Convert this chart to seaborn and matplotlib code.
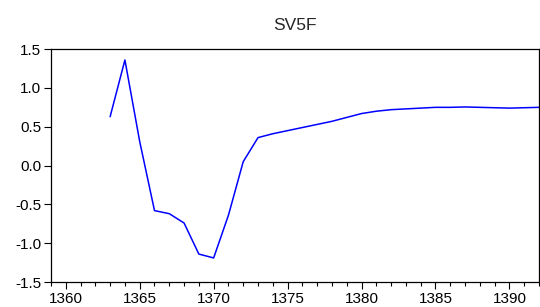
import seaborn as sns
import matplotlib.pyplot as plt
import pandas as pd
from matplotlib.ticker import MultipleLocator

# Series
years = list(range(1363, 1393))
sv5f = [0.63, 1.36, 0.31, -0.58, -0.62, -0.74, -1.14, -1.19, -0.64, 0.05,
        0.36, 0.41, 0.45, 0.49, 0.53, 0.57, 0.62, 0.67, 0.70, 0.72,
        0.73, 0.74, 0.75, 0.75, 0.755, 0.75, 0.745, 0.74, 0.745, 0.75]
y_ticks = [-1.5, -1.0, -0.5, 0.0, 0.5, 1.0, 1.5]

df = pd.DataFrame({'year': years, 'value': sv5f})

sns.set_theme(style="ticks")
plt.rcParams['font.family'] = ['Liberation Sans', 'DejaVu Sans']

fig = plt.figure(figsize=(5.4, 3.07), dpi=100)
ax = fig.add_axes([0.0944, 0.0814, 0.9037, 0.7586])

sns.lineplot(data=df, x='year', y='value', color='#0000ff', linewidth=1.1, ax=ax)

ax.set_xlim(1359, 1392)
ax.set_ylim(-1.5, 1.5)
ax.xaxis.set_major_locator(MultipleLocator(5))
ax.xaxis.set_minor_locator(MultipleLocator(1))
ax.set_yticks(y_ticks)
ax.set_yticklabels([f'{v:.1f}' for v in y_ticks])
ax.tick_params(axis='both', which='major', length=5, width=0.8, color='black',
               labelsize=11, labelcolor='black', pad=2)
ax.tick_params(axis='x', which='minor', length=3, width=0.8, color='black')
for s in ax.spines.values():
    s.set_color('black')
    s.set_linewidth(0.9)
ax.set_xlabel('')
ax.set_ylabel('')
ax.set_title('SV5F', fontsize=12.5, pad=14)

plt.savefig('out.png', dpi=100)
plt.close()
